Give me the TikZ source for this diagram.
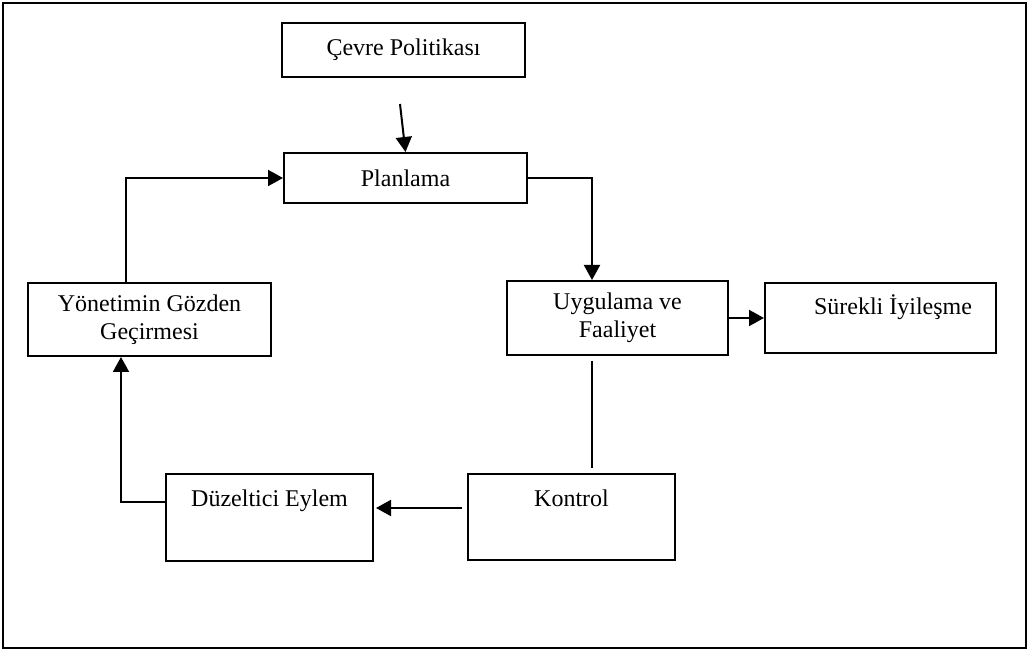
\documentclass[tikz,border=0pt]{standalone}
\usepackage{fontspec}
\setmainfont{Liberation Serif}
\usetikzlibrary{arrows.meta,calc}
\begin{document}
\begin{tikzpicture}[x=0.5pt,y=-0.5pt,
  box/.style={draw,line width=1pt,inner sep=0pt,align=center,font=\fontsize{12}{14}\selectfont},
  lbl/.style={inner sep=0pt,anchor=base,font=\fontsize{12}{14}\selectfont},
  arr/.style={line width=1pt,-{Triangle[length=7.5pt,width=8pt]}},
  con/.style={line width=1pt}]
\useasboundingbox (0,0) rectangle (1030,652);
\draw[line width=1.3pt] (3,3) rectangle (1026,648);
% boxes
\node[box,minimum width=121.5pt,minimum height=27pt] (cevre) at (403.5,50) {Çevre Politikası};
\node[box,minimum width=121.5pt,minimum height=25pt] (plan) at (405.5,178) {Planlama};
\node[box,minimum width=121.5pt,minimum height=36.5pt] (yon) at (149.5,319.5) {Yönetimin Gözden\\Geçirmesi};
\node[box,minimum width=110.5pt,minimum height=37pt] (uyg) at (617.5,318) {Uygulama ve\\Faaliyet};
\node[box,minimum width=115.5pt,minimum height=35pt] (sur) at (880.5,318) {};
\node[box,minimum width=103.5pt,minimum height=43.5pt] (duz) at (269.5,517.5) {};
\node[box,minimum width=103.5pt,minimum height=43pt] (kon) at (571.5,517) {};
% top-aligned texts
\node[lbl] (surt) at (893,315) {Sürekli İyileşme};
\node[lbl] (duzt) at (269.5,507) {Düzeltici Eylem};
\node[lbl] (kont) at (571.5,507) {Kontrol};
% connectors
\coordinate (c1) at (400,104);
\draw[arr] (c1) -- (plan.north);
\draw[arr] ($(yon.north west)+(99,0)$) |- (plan.west);
\draw[arr] (plan.east) -| ($(uyg.north west)+(86,0)$);
\draw[arr] (uyg.east) -- (sur.west);
\coordinate (c2) at ($(uyg.south west)+(86,5)$);
\coordinate (c3) at ($(kon.north west)+(125,-5)$);
\draw[con] (c2) -- (c3);
\coordinate (c4) at ($(kon.north west)+(-5,35)$);
\draw[arr] (c4) -- ($(duz.north east)+(2,35)$);
\draw[arr] ($(duz.north west)+(0,29)$) -| ($(yon.south west)+(94,0)$);
\end{tikzpicture}
\end{document}
